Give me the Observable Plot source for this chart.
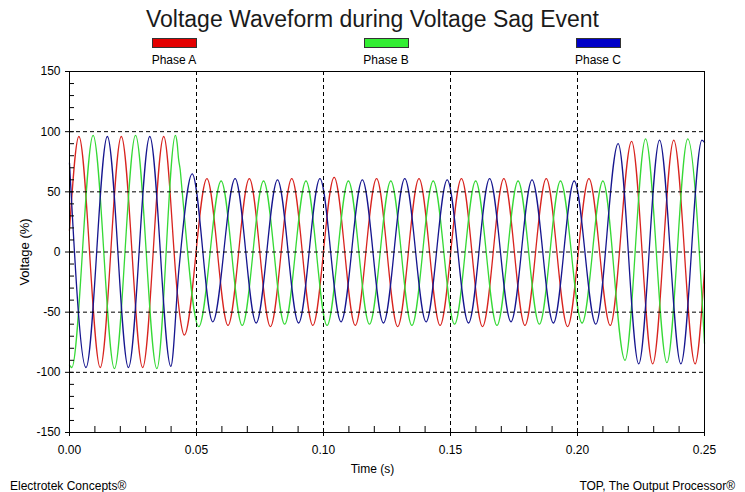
<!DOCTYPE html>
<html>
<head>
<meta charset="utf-8">
<script src="https://cdn.jsdelivr.net/npm/d3@7"></script>
<script src="https://cdn.jsdelivr.net/npm/@observablehq/plot@0.6"></script>
<style>
  html, body { margin: 0; padding: 0; background: #fff; }
  #wrap { position: relative; width: 745px; height: 492px; background: #fff; overflow: hidden;
          font-family: "Liberation Sans", Arial, sans-serif; color: #000; }
  #chart { position: absolute; left: 0; top: 0; }
  .abs { position: absolute; white-space: nowrap; }
  .title { left: 0; width: 745px; top: 6px; text-align: center; font-size: 23px; color: #1a1a1a; }
  .sw { position: absolute; width: 43px; height: 8px; border: 1px solid #333; }
  .lg { position: absolute; font-size: 12px; transform: translateX(-50%); }
  .foot { font-size: 12px; top: 479px; }
</style>
</head>
<body>
<div id="wrap">
  <div id="chart"></div>
  <div class="abs title">Voltage Waveform during Voltage Sag Event</div>
  <div id="legend"></div>
  <div class="abs" style="left:0;width:745px;top:462px;text-align:center;font-size:12px;">Time (s)</div>
  <div class="abs" style="left:24px;top:252px;font-size:13px;transform:translate(-50%,-50%) rotate(-90deg);">Voltage (%)</div>
  <div class="abs foot" style="left:10px;">Electrotek Concepts®</div>
  <div class="abs foot" style="right:10px;">TOP, The Output Processor®</div>
</div>
<script>
// ---- Data (time in s, voltage in %) ----
const phases = ["Phase A", "Phase B", "Phase C"];
const lineColors = ["#d8241f", "#36d936", "#16168f"];
const swatchColors = ["#e30000", "#33ee33", "#0000c8"];

// Phase A (red): extrema and sag-onset points
const phaseA_t = [0, 0.0037, 0.0121, 0.0204, 0.0288, 0.0371, 0.0425, 0.0434, 0.0452,
  0.0541, 0.0624, 0.0708, 0.0791, 0.0875, 0.0958, 0.1042, 0.1125, 0.1209, 0.1292,
  0.1376, 0.1459, 0.1543, 0.1626, 0.1710, 0.1793, 0.1877, 0.1961, 0.2045, 0.2129,
  0.2213, 0.2296, 0.2379, 0.2463, 0.25];
const phaseA_v = [18, 96, -96, 96, -96, 96, -35, -52, -69,
  61, -61, 61, -62, 61, -61, 62, -61, 61, -62,
  61, -61, 61, -62, 61, -61, 61, -62, 61, -61,
  92, -93, 93, -93, -15];

// Phase B (green)
const phaseB_t = [0, 0.0009, 0.0093, 0.0177, 0.0260, 0.0344, 0.0417, 0.0424, 0.0429, 0.0436, 0.0442,
  0.0509, 0.0597, 0.0680, 0.0764, 0.0847, 0.0931, 0.1014, 0.1098, 0.1181, 0.1265,
  0.1348, 0.1432, 0.1516, 0.1599, 0.1683, 0.1766, 0.1850, 0.1933, 0.2018, 0.2100,
  0.2187, 0.2268, 0.2352, 0.2434, 0.25];
const phaseB_v = [-94, -96, 97, -97, 97, -97, 97, 90, 78, 68, 54,
  -62, 59, -61, 59, -60, 59, -61, 59, -60, 59,
  -61, 59, -60, 59, -61, 59, -60, 59, -59, 59,
  -90, 94, -92, 94, -76];

// Phase C (blue)
const phaseC_t = [0, 0.0065, 0.0149, 0.0232, 0.0316, 0.0399, 0.0431,
  0.0483, 0.0564, 0.0652, 0.0735, 0.0819, 0.0902, 0.0986, 0.1069, 0.1153, 0.1236,
  0.1320, 0.1404, 0.1487, 0.1571, 0.1654, 0.1738, 0.1821, 0.1905, 0.1987, 0.2072,
  0.2160, 0.2241, 0.2323, 0.2407, 0.2490, 0.25];
const phaseC_v = [74, -96, 96, -96, 96, -95, -14,
  65, -58, 61, -59, 60, -59, 61, -58, 60, -59,
  61, -58, 60, -59, 61, -58, 60, -59, 59, -60,
  90, -93, 93, -93, 93, 91];

// Axis ticks
const xLabelTicks = [0, 0.05, 0.10, 0.15, 0.20, 0.25];
const xGridTicks = [0.05, 0.10, 0.15, 0.20];
const xMinorTicks = [0.01, 0.02, 0.03, 0.04, 0.06, 0.07, 0.08, 0.09, 0.11, 0.12, 0.13, 0.14,
  0.16, 0.17, 0.18, 0.19, 0.21, 0.22, 0.23, 0.24];
const yLabelTicks = [-150, -100, -50, 0, 50, 100, 150];
const yGridTicks = [-100, -50, 0, 50, 100];
const yMinorTicks = [-140, -130, -120, -110, -100, -90, -80, -70, -60, -50, -40, -30, -20, -10,
  0, 10, 20, 30, 40, 50, 60, 70, 80, 90, 100, 110, 120, 130, 140];

// ---- Build table ----
const rows = [];
[[phaseA_t, phaseA_v], [phaseB_t, phaseB_v], [phaseC_t, phaseC_v]].forEach(([ts, vs], i) => {
  ts.forEach((t, j) => rows.push({phase: phases[i], t, v: vs[j]}));
});

const chart = Plot.plot({
  width: 745,
  height: 492,
  marginLeft: 69,
  marginRight: 41,
  marginTop: 71,
  marginBottom: 60,
  style: {fontFamily: '"Liberation Sans", Arial, sans-serif', fontSize: "12px", background: "transparent", color: "#000"},
  x: {domain: [0, 0.25]},
  y: {domain: [-150, 150]},
  color: {domain: phases, range: lineColors},
  marks: [
    Plot.line(rows, {x: "t", y: "v", z: "phase", stroke: "phase", strokeWidth: 1.3, curve: "monotone-x"}),
    Plot.gridX(xGridTicks, {stroke: "#000", strokeOpacity: 1, strokeDasharray: "4,3"}),
    Plot.gridY(yGridTicks, {stroke: "#000", strokeOpacity: 1, strokeDasharray: "4,3"}),
    Plot.frame({stroke: "#000"}),
    Plot.axisY({ticks: yLabelTicks, tickSize: 4, tickPadding: 5, fontSize: 12, tickFormat: d => String(d), label: null}),
    Plot.axisY({ticks: yMinorTicks, tickSize: 5, dx: 5, tickFormat: () => "", label: null}),
    Plot.axisX({ticks: xLabelTicks, tickSize: 4, tickPadding: 9, fontSize: 12, tickFormat: d3.format(".2f"), label: null}),
    Plot.axisX({ticks: xMinorTicks, tickSize: 6, dy: -6, tickFormat: () => "", label: null})
  ]
});
document.getElementById("chart").appendChild(chart);

// Legend
const legendX = [174, 386, 598];
const legend = document.getElementById("legend");
phases.forEach((p, i) => {
  const sw = document.createElement("div");
  sw.className = "sw";
  sw.style.left = (legendX[i] - 22) + "px";
  sw.style.top = "38px";
  sw.style.background = swatchColors[i];
  legend.appendChild(sw);
  const lb = document.createElement("div");
  lb.className = "lg";
  lb.style.left = legendX[i] + "px";
  lb.style.top = "53px";
  lb.textContent = p;
  legend.appendChild(lb);
});
</script>
</body>
</html>
